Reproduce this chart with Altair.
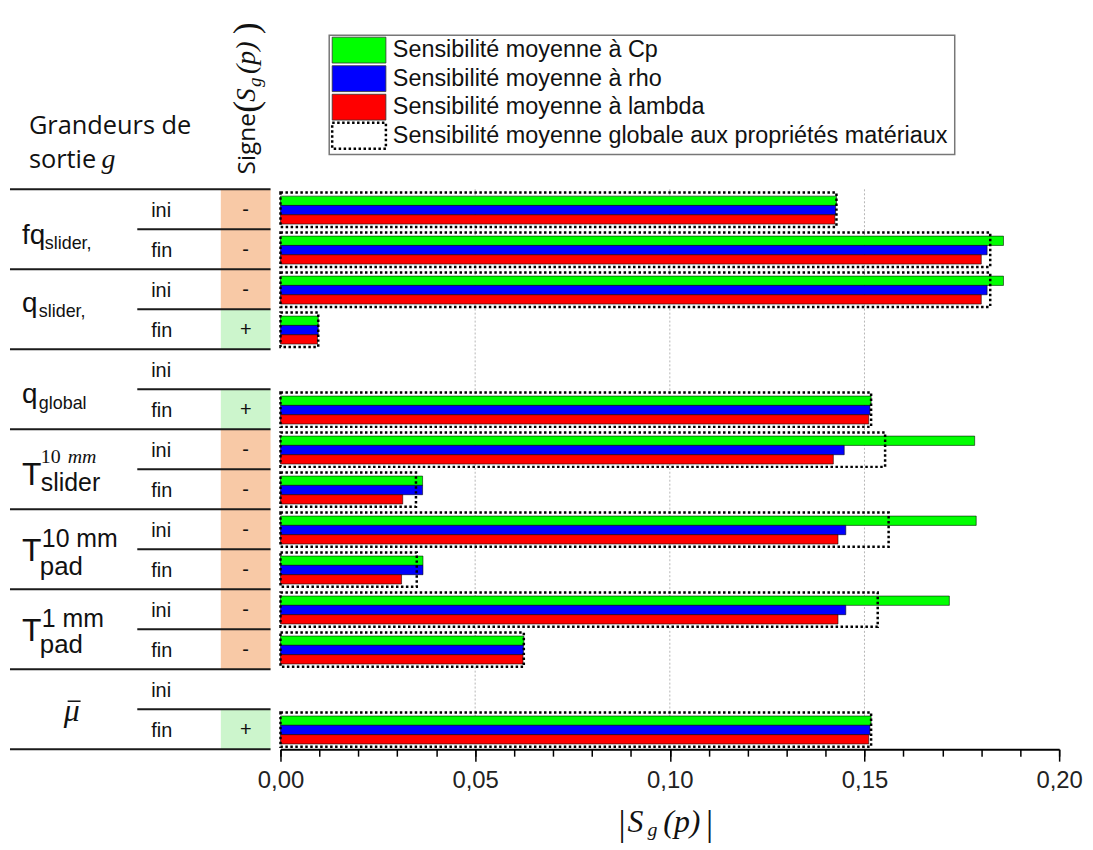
import altair as alt
import pandas as pd

# ------------------------------------------------------------------ data
group_main = ["fq", "q", "q", "T", "T", "T", "\u03bc\u0304"]
group_sub = ["slider,", "slider,", "global", "slider", "pad", "pad", ""]
group_sup = ["", "", "", "10 mm", "10 mm", "1 mm", ""]
phases = ["ini", "fin"]
signs = ["-", "-", "-", "+", "", "+", "-", "-", "-", "-", "-", "-", "", "+"]

sens_cp = [0.1428, 0.1857, 0.1857, 0.0097, None, 0.1517, 0.1783, 0.0365,
           0.1787, 0.0366, 0.1718, 0.0625, None, 0.1517]
sens_rho = [0.1426, 0.1815, 0.1815, 0.0097, None, 0.1514, 0.1448, 0.0365,
            0.1452, 0.0366, 0.1452, 0.0624, None, 0.1514]
sens_lambda = [0.1424, 0.1800, 0.1800, 0.0095, None, 0.1511, 0.1420, 0.0314,
               0.1432, 0.0311, 0.1432, 0.0623, None, 0.1511]
sens_global = [0.1428, 0.1823, 0.1823, 0.0097, None, 0.1517, 0.1553, 0.0348,
               0.1562, 0.0350, 0.1534, 0.0625, None, 0.1517]

series = ["Cp", "rho", "lambda"]
legend_labels = ["Sensibilité moyenne à Cp",
                 "Sensibilité moyenne à rho",
                 "Sensibilité moyenne à lambda",
                 "Sensibilité moyenne globale aux propriétés matériaux"]

x_major = [0.00, 0.05, 0.10, 0.15, 0.20]
x_minor = [0.00, 0.01, 0.02, 0.03, 0.04, 0.05, 0.06, 0.07, 0.08, 0.09, 0.10,
           0.11, 0.12, 0.13, 0.14, 0.15, 0.16, 0.17, 0.18, 0.19, 0.20]
x_grid = [0.05, 0.10, 0.15]

header_left = ["Grandeurs de", "sortie", "g"]
axis_title_parts = ["|", "S", "g", "(p)", "|"]
sign_title_parts = ["Signe", "(", "S", "g", "(p)", ")"]

# ------------------------------------------------------------------ styles
SANS = "Liberation Sans"
SERIF = "Liberation Serif"
HEAD = "Open Sans"
TXT = "#111111"
BAR_COLORS = ["#00FF00", "#0000FF", "#FF0000"]
SIGN_COLORS = {"-": "#F8C9A6", "+": "#CCF5CC"}

N_ROWS = len(signs)
W, H = 783, 563

X_SCALE = alt.Scale(domain=[0, 0.2], nice=False, zero=True)
Y_SCALE = alt.Scale(domain=[0, N_ROWS], reverse=True, nice=False, zero=False)

# ------------------------------------------------------------------ tables
rows = []
for i in range(N_ROWS):
    for k, vals in enumerate([sens_cp, sens_rho, sens_lambda]):
        if vals[i] is not None:
            rows.append({"row": i, "series": series[k], "k": k, "value": vals[i]})
bars_df = pd.DataFrame(rows)

glob_df = pd.DataFrame([{"row": i, "glob": v} for i, v in enumerate(sens_global) if v is not None])

table_df = pd.DataFrame({
    "row": list(range(N_ROWS)),
    "phase": [phases[i % 2] for i in range(N_ROWS)],
    "sign": signs,
})

layers = []

# grid lines
layers.append(
    alt.Chart(pd.DataFrame({"tick": x_grid})).mark_rule(
        color="#b5b5b5", strokeDash=[2, 2], strokeWidth=1
    ).encode(x=alt.X("tick:Q", scale=X_SCALE, axis=None))
)

# sign cells
for s, col in SIGN_COLORS.items():
    layers.append(
        alt.Chart(table_df).transform_filter(alt.datum.sign == s)
        .transform_calculate(row1="datum.row + 1")
        .mark_rect(color=col)
        .encode(x=alt.value(-60), x2=alt.value(-10),
                y=alt.Y("row:Q", scale=Y_SCALE, axis=None), y2="row1:Q")
    )

# separators
group_bounds = pd.DataFrame({"b": list(range(0, N_ROWS + 1, 2))})
phase_bounds = pd.DataFrame({"b": list(range(1, N_ROWS, 2))})
layers.append(
    alt.Chart(group_bounds).mark_rule(color="#1a1a1a", strokeWidth=2)
    .encode(x=alt.value(-272), x2=alt.value(-10), y=alt.Y("b:Q", scale=Y_SCALE, axis=None))
)
layers.append(
    alt.Chart(phase_bounds).mark_rule(color="#1a1a1a", strokeWidth=2)
    .encode(x=alt.value(-144), x2=alt.value(-10), y=alt.Y("b:Q", scale=Y_SCALE, axis=None))
)

# phase labels and signs
layers.append(
    alt.Chart(table_df).transform_calculate(rc="datum.row + 0.55")
    .mark_text(font=SANS, fontSize=20, align="left", baseline="middle", color=TXT)
    .encode(x=alt.value(-130), y=alt.Y("rc:Q", scale=Y_SCALE, axis=None), text="phase:N")
)
layers.append(
    alt.Chart(table_df).transform_filter(alt.datum.sign != "")
    .transform_calculate(rc="datum.row + 0.52")
    .mark_text(font=SANS, fontSize=20, align="center", baseline="middle", color=TXT)
    .encode(x=alt.value(-35), y=alt.Y("rc:Q", scale=Y_SCALE, axis=None), text="sign:N")
)

# coloured bars
layers.append(
    alt.Chart(bars_df)
    .transform_calculate(zero="0",
                         y0="datum.row + 0.17 + datum.k * 0.233",
                         y1="datum.row + 0.403 + datum.k * 0.233")
    .mark_rect(stroke="black", strokeWidth=0.8, strokeOpacity=0.7)
    .encode(
        x=alt.X("zero:Q", scale=X_SCALE,
                axis=alt.Axis(orient="bottom", values=x_major, tickSize=12, tickWidth=1.5,
                              tickColor="black", domainColor="black", domainWidth=2,
                              labelFont=SANS, labelFontSize=24, labelColor="#222",
                              labelPadding=7, labelFlush=False, labelOverlap=False,
                              labelExpr="replace(format(datum.value, '.2f'), '.', ',')",
                              grid=False, title=None, zindex=1)),
        x2="value:Q",
        y=alt.Y("y0:Q", scale=Y_SCALE,
                axis=alt.Axis(values=list(range(N_ROWS + 1)), tickSize=6, tickWidth=2,
                              tickColor="black", domainColor="black", domainWidth=2,
                              labels=False, grid=False, title=None, zindex=1)),
        y2="y1:Q",
        color=alt.Color("series:N", scale=alt.Scale(domain=series, range=BAR_COLORS), legend=None),
    )
)

# global dotted boxes
layers.append(
    alt.Chart(glob_df)
    .transform_calculate(zero="0", y0="datum.row + 0.08", y1="datum.row + 0.94")
    .mark_rect(filled=False, stroke="black", strokeWidth=2.5, strokeDash=[2.5, 2.5])
    .encode(
        x=alt.X("zero:Q", scale=X_SCALE,
                axis=alt.Axis(orient="bottom", values=x_minor, tickSize=7, tickWidth=1.5,
                              tickColor="black", domain=False, labels=False, grid=False,
                              title=None, zindex=1)),
        x2="glob:Q",
        y=alt.Y("y0:Q", scale=Y_SCALE, axis=None),
        y2="y1:Q",
    )
)

# group labels (composed of main text, subscript, superscript)
label_layout = {
    0: [("main", SANS, 28, "normal", -260, 15, "left"), ("sub", SANS, 18, "normal", -237, 20, "left")],
    1: [("main", SANS, 28, "normal", -260, 3, "left"), ("sub", SANS, 18, "normal", -243, 8, "left")],
    2: [("main", SANS, 28, "normal", -260, 14, "left"), ("sub", SANS, 18, "normal", -243, 20, "left")],
    3: [("main", SANS, 32, "normal", -260, 16, "left"), ("sub", SANS, 25, "normal", -241, 22, "left"),
        ("sup0", SERIF, 20, "normal", -241, -6, "left"), ("sup1", SERIF, 20, "italic", -214, -6, "left")],
    4: [("main", SANS, 32, "normal", -260, 12, "left"), ("sup", SANS, 25, "normal", -240, -2, "left"),
        ("sub", SANS, 26, "normal", -242, 26, "left")],
    5: [("main", SANS, 32, "normal", -260, 12, "left"), ("sup", SANS, 25, "normal", -240, -2, "left"),
        ("sub", SANS, 26, "normal", -242, 24, "left")],
    6: [("main", SERIF, 32, "italic", -210, 12, "center")],
}
for g, pieces in label_layout.items():
    for kind, font, size, style, px, dy, align in pieces:
        if kind == "main":
            t = group_main[g][0] if g == 6 else group_main[g]
        elif kind == "sub":
            t = group_sub[g]
        elif kind == "sup":
            t = group_sup[g]
        elif kind == "sup0":
            t = group_sup[g].split(" ")[0]
        else:
            t = group_sup[g].split(" ")[1]
        layers.append(
            alt.Chart(pd.DataFrame({"gc": [2 * g + 1], "t": [t]}))
            .mark_text(font=font, fontSize=size, fontStyle=style, align=align,
                       baseline="alphabetic", dy=dy, color=TXT)
            .encode(x=alt.value(px), y=alt.Y("gc:Q", scale=Y_SCALE, axis=None), text="t:N")
        )

# bar over mu (mean)
layers.append(
    alt.Chart(pd.DataFrame({"gc": [2 * 6 + 1]}))
    .transform_calculate(yb="datum.gc - 0.2")
    .mark_rule(color=TXT, strokeWidth=1.5)
    .encode(x=alt.value(-214), x2=alt.value(-201), y=alt.Y("yb:Q", scale=Y_SCALE, axis=None))
)


def free_text(t, x, y, font, size, style="normal", align="left", angle=0, baseline="alphabetic"):
    kw = dict(font=font, fontSize=size, fontStyle=style, align=align, baseline=baseline, color=TXT)
    if angle:
        kw["angle"] = angle
    return alt.Chart(pd.DataFrame({"t": [t]})).mark_text(**kw).encode(
        x=alt.value(x), y=alt.value(y), text="t:N")


# header of the label column
layers.append(free_text(header_left[0], -253, -56, HEAD, 25.5))
layers.append(free_text(header_left[1], -253, -21, HEAD, 25.5))
layers.append(free_text(header_left[2], -180, -21, SERIF, 28, style="italic"))

# rotated "Signe(S_g(p))"
layers.append(free_text(sign_title_parts[0], -26, -15, HEAD, 24.5, angle=270))
layers.append(free_text(sign_title_parts[1], -23, -77, SERIF, 36, angle=270))
layers.append(free_text(sign_title_parts[2], -26, -88, SERIF, 27, style="italic", angle=270))
layers.append(free_text(sign_title_parts[3], -20, -103, SERIF, 19, style="italic", angle=270))
layers.append(free_text(sign_title_parts[4], -26, -116, SERIF, 28, style="italic", angle=270))
layers.append(free_text(sign_title_parts[5], -23, -156, SERIF, 36, angle=270))

# x axis title |S_g(p)|
layers.append(free_text(axis_title_parts[0], 340, H + 86, SERIF, 36))
layers.append(free_text(axis_title_parts[1], 349, H + 83, SERIF, 32, style="italic"))
layers.append(free_text(axis_title_parts[2], 369, H + 87, SERIF, 20, style="italic"))
layers.append(free_text(axis_title_parts[3], 385, H + 83, SERIF, 32, style="italic"))
layers.append(free_text(axis_title_parts[4], 428, H + 86, SERIF, 36))

# legend
layers.append(
    alt.Chart(pd.DataFrame({"a": [0]})).mark_rect(fill="white", stroke="#777777", strokeWidth=1.5)
    .encode(x=alt.value(49), x2=alt.value(678), y=alt.value(-155), y2=alt.value(-35))
)
for i, lab in enumerate(legend_labels):
    top = -153 + i * 28.7
    if i < 3:
        sw = alt.Chart(pd.DataFrame({"a": [0]})).mark_rect(
            fill=BAR_COLORS[i], stroke="#333333", strokeWidth=0.8)
    else:
        sw = alt.Chart(pd.DataFrame({"a": [0]})).mark_rect(
            fill="white", stroke="black", strokeWidth=2.5, strokeDash=[2.5, 2.5])
    layers.append(sw.encode(x=alt.value(52), x2=alt.value(106),
                            y=alt.value(top), y2=alt.value(top + 26)))
    layers.append(free_text(lab, 113, top + 13, SANS, 23.5, baseline="middle"))

chart = (
    alt.layer(*layers)
    .resolve_axis(x="independent")
    .resolve_scale(color="independent")
    .properties(width=W, height=H,
                padding={"left": 274, "top": 180, "right": 26, "bottom": 98},
                autosize=alt.AutoSizeParams(type="none"))
    .configure_view(stroke=None)
)

chart.save("out.html", embed_options={"renderer": "svg", "actions": False})
